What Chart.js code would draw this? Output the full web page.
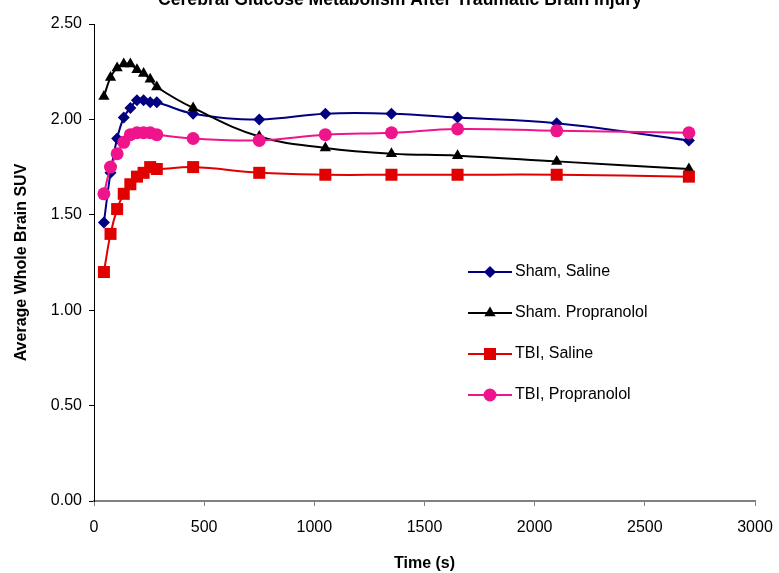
<!DOCTYPE html>
<html>
<head>
<meta charset="utf-8">
<script src="https://cdn.jsdelivr.net/npm/chart.js@4.4.1/dist/chart.umd.min.js"></script>
<style>
  html, body { margin: 0; padding: 0; background: #fff; }
  canvas { display: block; }
</style>
</head>
<body>
<canvas id="suvChart" width="779" height="573"></canvas>
<script>
const chartTitle = 'Cerebral Glucose Metabolism After Traumatic Brain Injury';
const times = [45, 75, 105, 135, 165, 195, 225, 255, 285, 450, 750, 1050, 1350, 1650, 2100, 2700];
const seriesNames = ['Sham, Saline', 'Sham. Propranolol', 'TBI, Saline', 'TBI, Propranolol'];
const shamSaline = [1.46, 1.72, 1.90, 2.01, 2.06, 2.10, 2.10, 2.09, 2.09, 2.03, 2.00, 2.03, 2.03, 2.01, 1.98, 1.89];
const shamPropranolol = [2.12, 2.22, 2.27, 2.29, 2.29, 2.26, 2.24, 2.21, 2.17, 2.06, 1.91, 1.85, 1.82, 1.81, 1.78, 1.74];
const tbiSaline = [1.20, 1.40, 1.53, 1.61, 1.66, 1.70, 1.72, 1.75, 1.74, 1.75, 1.72, 1.71, 1.71, 1.71, 1.71, 1.70];
const tbiPropranolol = [1.61, 1.75, 1.82, 1.88, 1.92, 1.93, 1.93, 1.93, 1.92, 1.90, 1.89, 1.92, 1.93, 1.95, 1.94, 1.93];
const yTicks = [0, 0.5, 1.0, 1.5, 2.0, 2.5];
const xTicks = [0, 500, 1000, 1500, 2000, 2500, 3000];

const FONT = '"Liberation Sans", Arial, sans-serif';

function pts(values) {
    return values.map((v, i) => ({ x: times[i], y: v }));
}

const styles = [
    { color: '#000080', pointStyle: 'rectRot', radius: 6 },
    { color: '#000000', pointStyle: 'triangle', radius: 6.5 },
    { color: '#E00000', pointStyle: 'rect', radius: 8.5 },
    { color: '#F0148C', pointStyle: 'circle', radius: 6.5 }
];
const allSeries = [shamSaline, shamPropranolol, tbiSaline, tbiPropranolol];

const datasets = allSeries.map((vals, i) => ({
    label: seriesNames[i],
    data: pts(vals),
    borderColor: styles[i].color,
    backgroundColor: styles[i].color,
    borderWidth: 2,
    pointStyle: styles[i].pointStyle,
    pointRadius: styles[i].radius,
    pointBorderWidth: 0,
    pointBackgroundColor: styles[i].color,
    tension: 0.4,
    order: allSeries.length - i
}));

// title sits partly above the top edge, like the original export
const topTitle = {
    id: 'topTitle',
    afterDraw(chart) {
        const ctx = chart.ctx;
        ctx.save();
        ctx.font = 'bold 17.6px ' + FONT;
        ctx.fillStyle = '#000';
        ctx.textAlign = 'center';
        ctx.textBaseline = 'alphabetic';
        ctx.fillText(chartTitle, 400, 5);
        ctx.restore();
    }
};

// legend box inside the plot area
const innerLegend = {
    id: 'innerLegend',
    afterDatasetsDraw(chart) {
        const ctx = chart.ctx;
        const x0 = 468, x1 = 512, y0 = 272, step = 41;
        ctx.save();
        chart.data.datasets.forEach((ds, i) => {
            const y = y0 + i * step;
            ctx.strokeStyle = ds.borderColor;
            ctx.lineWidth = 2;
            ctx.beginPath();
            ctx.moveTo(x0, y);
            ctx.lineTo(x1, y);
            ctx.stroke();
            ctx.fillStyle = ds.borderColor;
            Chart.helpers.drawPoint(ctx, {
                pointStyle: ds.pointStyle,
                radius: ds.pointRadius,
                rotation: 0,
                borderWidth: 0
            }, (x0 + x1) / 2, y);
            ctx.fillStyle = '#000';
            ctx.font = '16px ' + FONT;
            ctx.textAlign = 'left';
            ctx.textBaseline = 'middle';
            ctx.fillText(ds.label, x1 + 3, y);
        });
        ctx.restore();
    }
};

new Chart(document.getElementById('suvChart'), {
    type: 'line',
    data: { datasets },
    options: {
        responsive: false,
        animation: false,
        layout: { padding: { left: 0, right: 24, top: 24, bottom: 0 } },
        plugins: {
            legend: { display: false },
            title: { display: false },
            tooltip: { enabled: false }
        },
        scales: {
            x: {
                type: 'linear',
                min: 0,
                max: 3000,
                afterBuildTicks: (s) => { s.ticks = xTicks.map(v => ({ value: v })); },
                afterFit: (s) => { s.height = 72; s.paddingLeft = 0; s.paddingRight = 0; },
                grid: { drawOnChartArea: false, drawTicks: true, tickLength: 5, color: '#808080' },
                border: { color: '#808080', width: 2 },
                ticks: { color: '#000', font: { family: FONT, size: 16 }, padding: 12, maxRotation: 0, callback: v => String(v) },
                title: { display: true, text: 'Time (s)', color: '#000', font: { family: FONT, size: 16, weight: 'bold' }, padding: { top: 0, bottom: 0 } }
            },
            y: {
                min: 0,
                max: 2.5,
                afterBuildTicks: (s) => { s.ticks = yTicks.map(v => ({ value: v })); },
                afterFit: (s) => { s.width = 94; s.paddingTop = 0; s.paddingBottom = 0; },
                grid: { drawOnChartArea: false, drawTicks: true, tickLength: 5, color: '#000' },
                border: { color: '#000', width: 1 },
                ticks: { color: '#000', font: { family: FONT, size: 16 }, padding: 7, callback: v => v.toFixed(2) },
                title: { display: true, text: 'Average Whole Brain SUV', color: '#000', font: { family: FONT, size: 16, weight: 'bold' }, padding: { top: 12, bottom: 0 } }
            }
        }
    },
    plugins: [topTitle, innerLegend]
});
</script>
</body>
</html>
